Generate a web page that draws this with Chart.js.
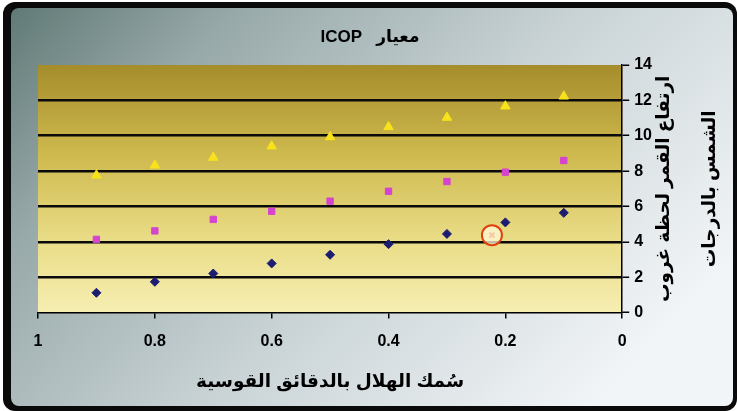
<!DOCTYPE html>
<html><head><meta charset="utf-8">
<script src="https://cdn.jsdelivr.net/npm/chart.js@4.4.1/dist/chart.umd.min.js"></script>
<style>html,body{margin:0;padding:0;background:#fff}canvas{display:block}</style>
</head><body>
<canvas id="c" width="737" height="411"></canvas>
<script>
const xValues = [0.9, 0.8, 0.7, 0.6, 0.5, 0.4, 0.3, 0.2, 0.1];
const diamondValues = [1.12, 1.74, 2.21, 2.78, 3.27, 3.87, 4.45, 5.10, 5.64];
const squareValues = [4.14, 4.62, 5.27, 5.73, 6.30, 6.86, 7.41, 7.94, 8.60];
const triangleValues = [7.77, 8.33, 8.77, 9.41, 9.93, 10.50, 11.03, 11.67, 12.23];
const markedX = [0.223];
const markedY = [4.38];
const xTicks = [1, 0.8, 0.6, 0.4, 0.2, 0];
const yTicks = [0, 2, 4, 6, 8, 10, 12, 14];
const titleText = 'ICOP   معيار';
const xTitle = 'سُمك الهلال بالدقائق القوسية';
const yTitleLines = ['ارتفاع القمر لحظة غروب', 'الشمس بالدرجات'];

const FONT = '"Liberation Sans", "DejaVu Sans", Arial, sans-serif';
const pts = (ys) => xValues.map((x, i) => ({x, y: ys[i]}));

function rr(ctx, x, y, w, h, r) {
  ctx.beginPath();
  ctx.moveTo(x + r, y);
  ctx.arcTo(x + w, y, x + w, y + h, r);
  ctx.arcTo(x + w, y + h, x, y + h, r);
  ctx.arcTo(x, y + h, x, y, r);
  ctx.arcTo(x, y, x + w, y, r);
  ctx.closePath();
}

const bgPlugin = {
  id: 'bg',
  beforeDraw(chart) {
    const ctx = chart.ctx, W = chart.width, H = chart.height;
    ctx.save();
    ctx.fillStyle = '#ffffff';
    ctx.fillRect(0, 0, W, H);
    ctx.fillStyle = '#0a0a0a';
    rr(ctx, 3, 2, W - 3, H - 2, 12);
    ctx.fill();
    const g = ctx.createLinearGradient(0, 0, W * 0.7, H * 1.2);
    g.addColorStop(0, '#5c7672');
    g.addColorStop(0.25, '#98a9a9');
    g.addColorStop(0.6, '#c9d3d6');
    g.addColorStop(1, '#f2f5f7');
    ctx.fillStyle = g;
    rr(ctx, 11, 8, W - 15, H - 13, 8);
    ctx.fill();
    const a = chart.chartArea;
    const pg = ctx.createLinearGradient(0, a.top, 0, a.bottom);
    pg.addColorStop(0, '#a58d2c');
    pg.addColorStop(0.35, '#cdb84c');
    pg.addColorStop(0.7, '#e9dc86');
    pg.addColorStop(1, '#f6eeb2');
    ctx.fillStyle = pg;
    ctx.fillRect(a.left, a.top, a.right - a.left, a.bottom - a.top);
    ctx.restore();
  },
  afterDraw(chart) {
    const ctx = chart.ctx, a = chart.chartArea;
    ctx.save();
    ctx.fillStyle = '#000';
    ctx.textAlign = 'center';
    ctx.textBaseline = 'middle';
    ctx.font = 'bold 17px ' + FONT;
    ctx.fillText(titleText, 370, 37);
    ctx.font = 'bold 18.5px ' + FONT;
    const cy = (a.top + a.bottom) / 2;
    ctx.translate(664, cy);
    ctx.rotate(-Math.PI / 2);
    yTitleLines.forEach((t, i) => ctx.fillText(t, 0, i * 46));
    ctx.restore();
  }
};

new Chart(document.getElementById('c'), {
  type: 'scatter',
  data: {
    datasets: [
      { data: pts(diamondValues), pointStyle: 'rectRot', pointRadius: 4.5, backgroundColor: '#1c1c70', borderColor: '#1c1c70', borderWidth: 1 },
      { data: pts(squareValues), pointStyle: 'rect', pointRadius: 4.5, backgroundColor: '#d544cf', borderColor: '#d544cf', borderWidth: 1 },
      { data: pts(triangleValues), pointStyle: 'triangle', pointRadius: 5.5, backgroundColor: '#f7e21c', borderColor: '#f7e21c', borderWidth: 1 },
      { data: markedX.map((x, i) => ({x, y: markedY[i]})), pointStyle: 'circle', pointRadius: 10, backgroundColor: 'rgba(255,248,215,0.75)', borderColor: '#e0400e', borderWidth: 2 },
      { data: markedX.map((x, i) => ({x, y: markedY[i]})), pointStyle: 'crossRot', pointRadius: 3.5, backgroundColor: '#d83010', borderColor: '#d83010', borderWidth: 2 }
    ]
  },
  options: {
    responsive: false,
    devicePixelRatio: 1,
    animation: false,
    events: [],
    layout: { padding: { left: 38, right: 80, top: 65, bottom: 18 } },
    plugins: {
      legend: { display: false },
      tooltip: { enabled: false },
      title: { display: false }
    },
    scales: {
      x: {
        type: 'linear', min: 0, max: 1, reverse: true,
        afterBuildTicks: s => { s.ticks = xTicks.map(v => ({value: v})); },
        ticks: {
          color: '#000', font: { family: FONT, size: 16, weight: 'bold' }, padding: 13,
          callback: v => String(Math.round(v * 10) / 10)
        },
        grid: { drawOnChartArea: false, drawTicks: true, tickLength: 6, color: '#000', lineWidth: 1.5 },
        border: { display: true, color: '#000', width: 1.5 },
        title: {
          display: true, text: xTitle, color: '#000',
          font: { family: FONT, size: 18.5, weight: 'bold' }, padding: { top: 7, bottom: 0 }
        }
      },
      y: {
        type: 'linear', position: 'right', min: 0, max: 14,
        afterBuildTicks: s => { s.ticks = yTicks.map(v => ({value: v})); },
        ticks: { color: '#000', font: { family: FONT, size: 16, weight: 'bold' }, padding: 5 },
        grid: {
          drawTicks: true, tickLength: 7, tickColor: '#000', tickWidth: 1.5,
          color: c => (c.tick && (c.tick.value === 0 || c.tick.value === 14)) ? 'rgba(0,0,0,0)' : '#0a0a0a',
          lineWidth: 2.5
        },
        border: { display: true, color: '#000', width: 1.5 }
      }
    }
  },
  plugins: [bgPlugin]
});
</script>
</body></html>
